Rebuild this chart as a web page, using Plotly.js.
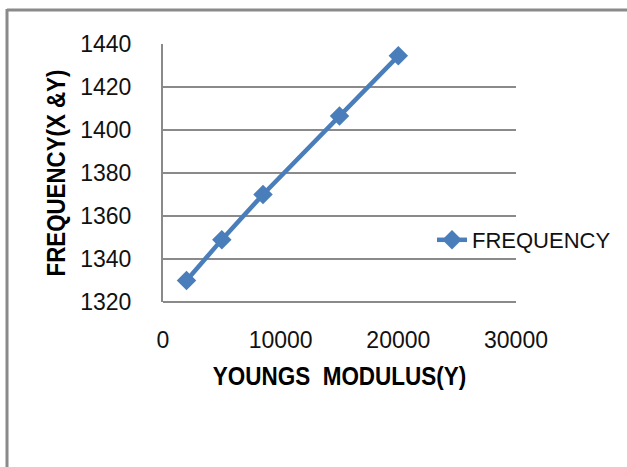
<!DOCTYPE html>
<html>
<head>
<meta charset="utf-8">
<script src="https://cdn.plot.ly/plotly-3.0.1.min.js"></script>
<style>
html,body{margin:0;padding:0;background:#fff;}
#chart{width:627px;height:467px;}
</style>
</head>
<body>
<div id="chart"></div>
<script>
// Data
const seriesName = "FREQUENCY";
const youngsModulus = [2000, 5000, 8500, 15000, 20000];
const frequency = [1330, 1349, 1370, 1406.5, 1434.5];
const xTickVals = [0, 10000, 20000, 30000];
const yTickVals = [1320, 1340, 1360, 1380, 1400, 1420, 1440];

const W = 627, H = 467;
const L = 163, R = 516, T = 44, B = 302;
const pw = R - L, ph = B - T;
function px(x){ return (x - L) / pw; }
function py(y){ return (B - y) / ph; }

const trace = {
  x: youngsModulus,
  y: frequency,
  name: seriesName,
  type: 'scatter',
  mode: 'lines+markers',
  line: {color: '#4a7ebb', width: 4.5},
  marker: {symbol: 'diamond', size: 15, color: '#4a7ebb'},
  showlegend: true
};

const gridCol = '#8a8a8a';
const FONT = '"Liberation Sans", Arial, sans-serif';
const layout = {
  width: W, height: H,
  margin: {l: L, r: W - R, t: T, b: H - B, pad: 0, autoexpand: false},
  paper_bgcolor: '#fff',
  plot_bgcolor: '#fff',
  font: {family: FONT, color: '#111'},
  showlegend: true,
  xaxis: {
    range: [0, 30000],
    tickvals: xTickVals,
    ticktext: xTickVals.map(String),
    showgrid: false,
    zeroline: false,
    showline: false,
    ticks: '',
    ticklabelstandoff: 22,
    tickfont: {size: 23, family: FONT, color: '#111'},
    title: {text: 'YOUNGS  MODULUS(Y)', standoff: 17,
      font: {size: 22.5, family: FONT, weight: 'bold', color: '#000'}},
    fixedrange: true
  },
  yaxis: {
    range: [1320, 1440],
    tickvals: yTickVals,
    ticktext: yTickVals.map(String),
    showgrid: true,
    gridcolor: gridCol,
    gridwidth: 2,
    zeroline: false,
    showline: true,
    linecolor: gridCol,
    linewidth: 2,
    ticks: '',
    ticklabelstandoff: 25,
    tickfont: {size: 23, family: FONT, color: '#111'},
    title: {text: 'FREQUENCY(X &Y)', standoff: 8,
      font: {size: 22.3, family: FONT, weight: 'bold', color: '#000'}},
    fixedrange: true
  },
  legend: {
    x: px(432), y: py(240), xanchor: 'left', yanchor: 'middle',
    bgcolor: 'rgba(0,0,0,0)',
    font: {size: 22, family: FONT, color: '#111'},
    itemwidth: 30
  },
  shapes: [
    {type: 'line', xref: 'paper', yref: 'paper', x0: px(7), x1: px(640), y0: py(10), y1: py(10), line: {color: gridCol, width: 3}},
    {type: 'line', xref: 'paper', yref: 'paper', x0: px(7), x1: px(7), y0: py(9), y1: py(480), line: {color: gridCol, width: 3}},
    {type: 'line', xref: 'paper', yref: 'paper', x0: 0, x1: 1, y0: 0, y1: 0, line: {color: gridCol, width: 2}, layer: 'below'}
  ]
};

function stretchText(el, k){
  if (!el) return;
  const x = parseFloat(el.getAttribute('x')) || 0;
  const y = parseFloat(el.getAttribute('y')) || 0;
  const t = el.getAttribute('transform') || '';
  el.setAttribute('transform', t + ' translate(' + x + ',' + y + ') scale(1,' + k + ') translate(' + (-x) + ',' + (-y) + ')');
}

Plotly.newPlot('chart', [trace], layout, {displayModeBar: false, staticPlot: true}).then(function(gd){
  stretchText(gd.querySelector('.xtitle'), 1.18);
  stretchText(gd.querySelector('.ytitle'), 1.18);
});
</script>
</body>
</html>
